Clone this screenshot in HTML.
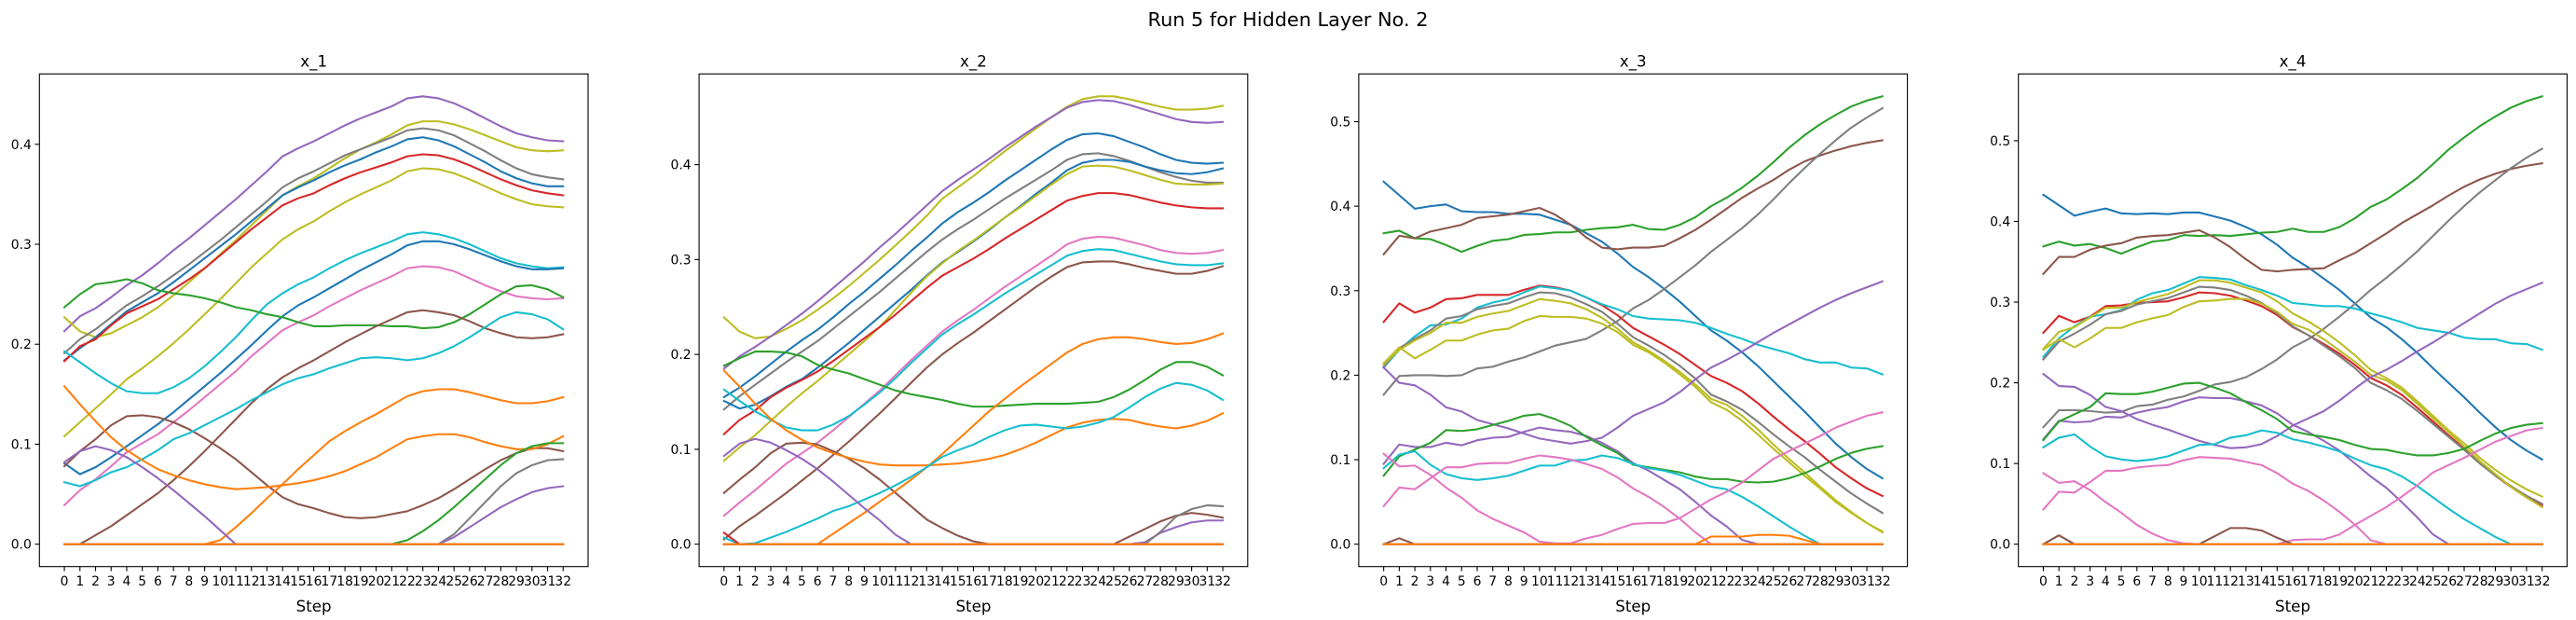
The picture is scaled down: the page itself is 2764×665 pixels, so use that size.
<!DOCTYPE html>
<html><head><meta charset="utf-8">
<style>
html,body{margin:0;padding:0;background:#fff;}
svg{display:block;}
text{font-family:"DejaVu Sans","Liberation Sans",sans-serif;fill:#000;}
</style></head>
<body>
<svg id="fig" width="2764" height="665" viewBox="0 0 2764 665" xmlns="http://www.w3.org/2000/svg">
<rect width="2764" height="665" fill="#fff"/>
<text x="1382" y="28" font-size="20.8" text-anchor="middle">Run 5 for Hidden Layer No. 2</text>
</svg>
<script>
const steps = [0,1,2,3,4,5,6,7,8,9,10,11,12,13,14,15,16,17,18,19,20,21,22,23,24,25,26,27,28,29,30,31,32];
const panelTitles = ["x_1","x_2","x_3","x_4"];
const Z = new Array(33).fill(0);

const colorsX1 = ["purple","olive","gray","blue","red","olive","cyan","blue","pink","green","brown","brown","cyan","orange","orange","purple","green","gray","purple","gray","orange"];
const seriesX1 = [
[0.213,0.228,0.236,0.247,0.259,0.269,0.281,0.294,0.306,0.319,0.332,0.345,0.359,0.373,0.388,0.396,0.403,0.411,0.419,0.426,0.432,0.438,0.446,0.448,0.446,0.441,0.434,0.426,0.418,0.411,0.407,0.404,0.403],
[0.227,0.213,0.207,0.211,0.219,0.227,0.237,0.249,0.262,0.276,0.290,0.304,0.319,0.334,0.349,0.358,0.366,0.376,0.386,0.395,0.402,0.410,0.419,0.423,0.423,0.420,0.415,0.409,0.403,0.397,0.394,0.393,0.394],
[0.191,0.205,0.215,0.227,0.239,0.248,0.258,0.269,0.280,0.292,0.304,0.317,0.330,0.343,0.357,0.366,0.373,0.381,0.389,0.395,0.401,0.407,0.414,0.416,0.414,0.409,0.401,0.393,0.384,0.376,0.370,0.367,0.365],
[0.184,0.196,0.207,0.220,0.233,0.242,0.251,0.262,0.274,0.286,0.298,0.310,0.323,0.336,0.349,0.357,0.364,0.372,0.379,0.385,0.392,0.398,0.405,0.407,0.404,0.398,0.390,0.382,0.373,0.366,0.361,0.358,0.358],
[0.183,0.198,0.205,0.219,0.231,0.238,0.245,0.255,0.265,0.276,0.289,0.302,0.315,0.327,0.339,0.346,0.351,0.359,0.366,0.372,0.377,0.382,0.388,0.390,0.389,0.385,0.379,0.372,0.365,0.359,0.354,0.351,0.349],
[0.108,0.122,0.136,0.150,0.165,0.176,0.188,0.201,0.215,0.230,0.245,0.261,0.277,0.291,0.305,0.315,0.323,0.333,0.342,0.350,0.357,0.364,0.373,0.376,0.375,0.371,0.365,0.358,0.351,0.345,0.340,0.338,0.337],
[0.193,0.182,0.171,0.161,0.153,0.151,0.151,0.157,0.166,0.178,0.192,0.207,0.224,0.240,0.251,0.260,0.267,0.276,0.284,0.291,0.297,0.303,0.310,0.312,0.310,0.306,0.300,0.293,0.286,0.281,0.278,0.276,0.277],
[0.081,0.070,0.077,0.087,0.098,0.109,0.120,0.132,0.145,0.158,0.171,0.185,0.199,0.214,0.228,0.239,0.247,0.256,0.265,0.274,0.282,0.290,0.299,0.303,0.303,0.300,0.295,0.289,0.283,0.278,0.275,0.275,0.276],
[0.039,0.054,0.065,0.078,0.092,0.101,0.110,0.122,0.134,0.147,0.160,0.173,0.188,0.201,0.214,0.222,0.229,0.238,0.246,0.254,0.261,0.268,0.276,0.278,0.277,0.273,0.266,0.259,0.253,0.248,0.246,0.245,0.246],
[0.237,0.250,0.260,0.262,0.265,0.261,0.254,0.251,0.249,0.246,0.242,0.237,0.234,0.230,0.227,0.222,0.218,0.218,0.219,0.219,0.219,0.218,0.218,0.216,0.217,0.222,0.230,0.240,0.250,0.258,0.259,0.255,0.247],
[0.078,0.093,0.105,0.119,0.128,0.129,0.127,0.122,0.115,0.106,0.096,0.085,0.072,0.059,0.047,0.040,0.036,0.031,0.027,0.026,0.027,0.030,0.033,0.039,0.046,0.055,0.065,0.075,0.084,0.091,0.096,0.096,0.093],
[0,0,0.009,0.018,0.029,0.040,0.051,0.064,0.078,0.093,0.109,0.125,0.141,0.155,0.167,0.176,0.184,0.193,0.202,0.210,0.218,0.225,0.232,0.234,0.232,0.229,0.223,0.216,0.211,0.207,0.206,0.207,0.210],
[0.062,0.058,0.064,0.072,0.077,0.085,0.094,0.105,0.111,0.119,0.127,0.135,0.144,0.152,0.160,0.166,0.170,0.176,0.181,0.186,0.187,0.186,0.184,0.186,0.191,0.198,0.207,0.217,0.227,0.232,0.230,0.225,0.215],
[0.158,0.140,0.123,0.107,0.094,0.084,0.075,0.069,0.064,0.060,0.057,0.055,0.056,0.057,0.059,0.061,0.064,0.068,0.073,0.080,0.087,0.096,0.105,0.108,0.110,0.110,0.107,0.102,0.098,0.095,0.095,0.100,0.108],
[0,0,0,0,0,0,0,0,0,0,0.004,0.017,0.031,0.046,0.060,0.075,0.089,0.103,0.113,0.122,0.130,0.139,0.148,0.153,0.155,0.155,0.152,0.148,0.144,0.141,0.141,0.143,0.147],
[0.082,0.093,0.098,0.094,0.087,0.077,0.066,0.054,0.041,0.028,0.014,0,0,0,0,0,0,0,0,0,0,0,0,0,0,0,0,0,0,0,0,0,0],
[0,0,0,0,0,0,0,0,0,0,0,0,0,0,0,0,0,0,0,0,0,0,0.004,0.013,0.024,0.037,0.051,0.065,0.079,0.091,0.098,0.101,0.101],
[0,0,0,0,0,0,0,0,0,0,0,0,0,0,0,0,0,0,0,0,0,0,0,0,0,0.010,0.026,0.042,0.058,0.071,0.079,0.084,0.085],
[0,0,0,0,0,0,0,0,0,0,0,0,0,0,0,0,0,0,0,0,0,0,0,0,0,0.007,0.017,0.027,0.037,0.045,0.052,0.056,0.058],
Z, Z
];

const colorsX2 = ["olive","purple","blue","gray","blue","olive","red","pink","cyan","brown","brown","green","orange","orange","cyan","purple","gray","red","gray","orange"];
const seriesX2 = [
[0.239,0.224,0.217,0.219,0.227,0.236,0.247,0.259,0.272,0.286,0.300,0.315,0.330,0.346,0.364,0.376,0.388,0.401,0.414,0.426,0.438,0.450,0.461,0.469,0.472,0.472,0.469,0.465,0.461,0.458,0.458,0.459,0.462],
[0.185,0.198,0.208,0.219,0.231,0.243,0.256,0.270,0.284,0.298,0.313,0.327,0.342,0.357,0.372,0.384,0.395,0.406,0.418,0.429,0.440,0.450,0.460,0.466,0.468,0.467,0.463,0.458,0.453,0.448,0.445,0.444,0.445],
[0.155,0.165,0.177,0.190,0.203,0.215,0.226,0.239,0.253,0.266,0.280,0.294,0.309,0.323,0.338,0.350,0.360,0.371,0.383,0.394,0.405,0.416,0.426,0.432,0.433,0.430,0.424,0.418,0.411,0.405,0.402,0.401,0.402],
[0.142,0.156,0.168,0.180,0.192,0.203,0.214,0.227,0.240,0.253,0.266,0.280,0.294,0.308,0.321,0.332,0.342,0.353,0.364,0.374,0.384,0.394,0.405,0.411,0.412,0.409,0.404,0.398,0.392,0.387,0.383,0.381,0.381],
[0.151,0.143,0.147,0.156,0.166,0.174,0.186,0.199,0.212,0.226,0.240,0.254,0.268,0.283,0.297,0.308,0.319,0.331,0.344,0.356,0.369,0.381,0.394,0.402,0.405,0.405,0.403,0.398,0.394,0.391,0.390,0.392,0.396],
[0.088,0.102,0.115,0.130,0.145,0.159,0.172,0.186,0.200,0.214,0.229,0.247,0.265,0.282,0.296,0.309,0.320,0.332,0.344,0.355,0.367,0.379,0.390,0.398,0.399,0.398,0.394,0.389,0.384,0.380,0.379,0.379,0.380],
[0.116,0.131,0.141,0.155,0.165,0.173,0.182,0.193,0.205,0.217,0.229,0.242,0.256,0.270,0.283,0.292,0.301,0.311,0.322,0.332,0.342,0.352,0.362,0.367,0.370,0.370,0.368,0.364,0.360,0.357,0.355,0.354,0.354],
[0.030,0.044,0.057,0.071,0.085,0.096,0.107,0.120,0.134,0.148,0.162,0.178,0.194,0.209,0.224,0.236,0.247,0.259,0.271,0.282,0.293,0.304,0.316,0.322,0.324,0.323,0.319,0.315,0.310,0.307,0.306,0.307,0.310],
[0.163,0.151,0.140,0.131,0.123,0.120,0.120,0.126,0.135,0.147,0.160,0.175,0.191,0.206,0.221,0.232,0.242,0.253,0.264,0.274,0.284,0.294,0.304,0.309,0.311,0.310,0.306,0.302,0.298,0.295,0.294,0.294,0.296],
[0.005,0.019,0.030,0.042,0.054,0.067,0.080,0.094,0.108,0.123,0.138,0.154,0.170,0.186,0.200,0.212,0.223,0.235,0.247,0.259,0.271,0.282,0.292,0.297,0.298,0.298,0.295,0.291,0.288,0.285,0.285,0.288,0.293],
[0.054,0.068,0.081,0.096,0.106,0.107,0.105,0.098,0.090,0.080,0.068,0.054,0.040,0.026,0.017,0.009,0.003,0,0,0,0,0,0,0,0,0,0.008,0.016,0.024,0.030,0.033,0.031,0.028],
[0.188,0.196,0.203,0.203,0.202,0.198,0.189,0.184,0.180,0.174,0.168,0.162,0.158,0.155,0.152,0.148,0.145,0.145,0.146,0.147,0.148,0.148,0.148,0.149,0.150,0.155,0.163,0.173,0.184,0.192,0.192,0.187,0.178],
[0.183,0.166,0.148,0.132,0.120,0.110,0.102,0.096,0.091,0.087,0.084,0.083,0.083,0.083,0.084,0.085,0.087,0.090,0.094,0.100,0.107,0.115,0.123,0.128,0.131,0.132,0.131,0.127,0.124,0.122,0.125,0.130,0.138],
[0,0,0,0,0,0,0,0.011,0.022,0.033,0.045,0.056,0.068,0.081,0.095,0.110,0.125,0.140,0.153,0.166,0.178,0.190,0.202,0.211,0.216,0.218,0.218,0.216,0.213,0.211,0.212,0.216,0.222],
[0.007,0,0.001,0.007,0.013,0.020,0.027,0.035,0.040,0.047,0.054,0.062,0.071,0.081,0.092,0.099,0.105,0.113,0.120,0.125,0.126,0.124,0.122,0.124,0.128,0.134,0.144,0.155,0.164,0.170,0.168,0.162,0.152],
[0.093,0.106,0.111,0.107,0.099,0.090,0.079,0.066,0.052,0.038,0.025,0.010,0,0,0,0,0,0,0,0,0,0,0,0,0,0,0,0.002,0.012,0.018,0.023,0.025,0.025],
[0,0,0,0,0,0,0,0,0,0,0,0,0,0,0,0,0,0,0,0,0,0,0,0,0,0,0,0,0.013,0.029,0.037,0.041,0.040],
[0.012,0,0,0,0,0,0,0,0,0,0,0,0,0,0,0,0,0,0,0,0,0,0,0,0,0,0,0,0,0,0,0,0],
Z, Z
];

const colorsX3 = ["blue","green","brown","gray","red","cyan","gray","olive","olive","purple","purple","green","cyan","pink","pink","orange","brown","gray","orange"];
const seriesX3 = [
[0.429,0.413,0.397,0.400,0.402,0.394,0.393,0.393,0.391,0.391,0.390,0.384,0.378,0.368,0.358,0.344,0.328,0.316,0.302,0.287,0.270,0.253,0.241,0.227,0.211,0.193,0.175,0.157,0.138,0.119,0.103,0.089,0.078],
[0.368,0.371,0.362,0.361,0.354,0.346,0.353,0.359,0.361,0.366,0.367,0.369,0.369,0.372,0.374,0.375,0.378,0.373,0.372,0.378,0.387,0.400,0.410,0.422,0.436,0.452,0.469,0.484,0.497,0.508,0.518,0.525,0.530],
[0.343,0.365,0.362,0.370,0.374,0.378,0.386,0.388,0.390,0.394,0.398,0.390,0.378,0.363,0.351,0.349,0.351,0.351,0.353,0.362,0.372,0.384,0.397,0.410,0.421,0.431,0.443,0.453,0.460,0.466,0.471,0.475,0.478],
[0.177,0.199,0.200,0.200,0.199,0.200,0.208,0.210,0.216,0.221,0.228,0.235,0.239,0.243,0.253,0.264,0.279,0.289,0.302,0.316,0.330,0.346,0.360,0.374,0.390,0.408,0.427,0.445,0.462,0.478,0.493,0.505,0.516],
[0.263,0.285,0.274,0.280,0.290,0.291,0.295,0.295,0.295,0.301,0.306,0.304,0.300,0.292,0.283,0.271,0.256,0.246,0.236,0.225,0.212,0.199,0.191,0.181,0.167,0.151,0.136,0.122,0.107,0.091,0.078,0.066,0.057],
[0.209,0.230,0.246,0.259,0.260,0.267,0.280,0.286,0.290,0.298,0.305,0.303,0.300,0.292,0.284,0.278,0.270,0.267,0.266,0.265,0.262,0.256,0.249,0.243,0.236,0.231,0.226,0.219,0.215,0.215,0.209,0.208,0.201],
[0.210,0.232,0.243,0.253,0.267,0.270,0.278,0.282,0.285,0.292,0.298,0.297,0.292,0.284,0.275,0.261,0.245,0.235,0.224,0.211,0.196,0.177,0.169,0.159,0.145,0.130,0.116,0.103,0.088,0.074,0.060,0.048,0.037],
[0.213,0.230,0.241,0.250,0.262,0.262,0.269,0.273,0.276,0.283,0.290,0.288,0.285,0.278,0.268,0.255,0.239,0.229,0.217,0.204,0.189,0.172,0.165,0.152,0.136,0.118,0.101,0.085,0.068,0.052,0.038,0.025,0.014],
[0.214,0.233,0.220,0.230,0.241,0.241,0.248,0.253,0.255,0.264,0.270,0.269,0.269,0.267,0.261,0.251,0.236,0.227,0.215,0.201,0.186,0.168,0.159,0.146,0.130,0.113,0.097,0.081,0.066,0.050,0.037,0.025,0.015],
[0.209,0.191,0.188,0.177,0.162,0.157,0.147,0.142,0.137,0.131,0.125,0.122,0.119,0.122,0.126,0.138,0.152,0.160,0.168,0.180,0.195,0.209,0.218,0.228,0.239,0.250,0.260,0.270,0.280,0.289,0.297,0.304,0.311],
[0.095,0.118,0.115,0.115,0.120,0.117,0.123,0.126,0.127,0.133,0.138,0.135,0.133,0.128,0.120,0.110,0.096,0.087,0.076,0.065,0.050,0.034,0.021,0.005,0,0,0,0,0,0,0,0,0],
[0.081,0.104,0.112,0.120,0.135,0.134,0.136,0.141,0.146,0.152,0.154,0.148,0.140,0.127,0.117,0.108,0.094,0.091,0.088,0.085,0.080,0.077,0.077,0.074,0.073,0.074,0.078,0.084,0.092,0.101,0.108,0.113,0.116],
[0.090,0.106,0.110,0.094,0.083,0.078,0.076,0.078,0.081,0.087,0.093,0.093,0.099,0.100,0.105,0.102,0.095,0.090,0.087,0.082,0.075,0.068,0.065,0.056,0.045,0.033,0.021,0.010,0,0,0,0,0],
[0.107,0.092,0.093,0.082,0.067,0.055,0.040,0.030,0.022,0.014,0.003,0.001,0.001,0.007,0.011,0.018,0.024,0.025,0.025,0.031,0.042,0.053,0.062,0.073,0.087,0.101,0.110,0.119,0.128,0.138,0.145,0.152,0.156],
[0.045,0.067,0.065,0.078,0.091,0.091,0.095,0.096,0.096,0.101,0.105,0.103,0.100,0.095,0.089,0.079,0.066,0.056,0.044,0.030,0.014,0,0,0,0,0,0,0,0,0,0,0,0],
[0,0,0,0,0,0,0,0,0,0,0,0,0,0,0,0,0,0,0,0,0,0.009,0.009,0.009,0.011,0.011,0.010,0.005,0,0,0,0,0],
[0,0.007,0,0,0,0,0,0,0,0,0,0,0,0,0,0,0,0,0,0,0,0,0,0,0,0,0,0,0,0,0,0,0],
Z, Z
];

const colorsX4 = ["blue","green","brown","gray","red","cyan","olive","gray","olive","purple","purple","green","cyan","pink","pink","brown","gray","orange"];
const seriesX4 = [
[0.433,0.420,0.407,0.412,0.416,0.410,0.409,0.410,0.409,0.411,0.411,0.406,0.401,0.393,0.384,0.371,0.355,0.343,0.329,0.315,0.298,0.281,0.269,0.254,0.237,0.218,0.200,0.182,0.163,0.145,0.129,0.116,0.105],
[0.369,0.375,0.370,0.372,0.367,0.360,0.368,0.375,0.377,0.383,0.382,0.383,0.382,0.384,0.386,0.387,0.391,0.387,0.387,0.393,0.404,0.418,0.427,0.440,0.454,0.471,0.489,0.504,0.518,0.530,0.541,0.549,0.555],
[0.335,0.356,0.356,0.365,0.370,0.373,0.380,0.382,0.383,0.386,0.389,0.380,0.368,0.353,0.340,0.338,0.340,0.341,0.342,0.352,0.361,0.373,0.385,0.398,0.409,0.420,0.432,0.443,0.452,0.459,0.465,0.469,0.472],
[0.145,0.166,0.166,0.165,0.163,0.164,0.171,0.173,0.179,0.183,0.190,0.198,0.201,0.207,0.217,0.229,0.244,0.254,0.267,0.282,0.298,0.315,0.330,0.346,0.363,0.382,0.401,0.419,0.436,0.451,0.466,0.479,0.490],
[0.262,0.283,0.275,0.282,0.295,0.296,0.299,0.300,0.301,0.306,0.312,0.311,0.308,0.302,0.295,0.284,0.269,0.259,0.248,0.236,0.222,0.206,0.197,0.185,0.169,0.152,0.135,0.118,0.101,0.085,0.071,0.058,0.048],
[0.232,0.255,0.270,0.282,0.285,0.290,0.303,0.311,0.315,0.323,0.331,0.330,0.328,0.321,0.315,0.308,0.299,0.297,0.295,0.295,0.292,0.286,0.281,0.275,0.268,0.265,0.262,0.256,0.254,0.254,0.249,0.248,0.241],
[0.242,0.263,0.269,0.281,0.293,0.293,0.300,0.305,0.310,0.318,0.327,0.327,0.324,0.318,0.312,0.301,0.286,0.276,0.264,0.250,0.234,0.216,0.206,0.194,0.177,0.159,0.141,0.125,0.107,0.092,0.079,0.068,0.059],
[0.229,0.251,0.261,0.272,0.285,0.289,0.297,0.301,0.305,0.312,0.319,0.318,0.315,0.308,0.299,0.286,0.270,0.259,0.246,0.233,0.218,0.200,0.191,0.180,0.165,0.149,0.133,0.117,0.100,0.085,0.072,0.060,0.050],
[0.241,0.254,0.244,0.255,0.268,0.268,0.275,0.280,0.284,0.294,0.301,0.302,0.304,0.304,0.298,0.288,0.273,0.266,0.254,0.240,0.226,0.210,0.203,0.191,0.174,0.156,0.139,0.121,0.103,0.087,0.071,0.058,0.046],
[0.211,0.196,0.195,0.185,0.170,0.165,0.155,0.148,0.142,0.135,0.128,0.123,0.119,0.120,0.124,0.134,0.147,0.156,0.165,0.178,0.193,0.207,0.216,0.227,0.239,0.250,0.262,0.274,0.286,0.298,0.308,0.316,0.324],
[0.130,0.153,0.151,0.152,0.158,0.157,0.163,0.167,0.170,0.177,0.182,0.181,0.181,0.177,0.172,0.162,0.148,0.139,0.128,0.116,0.100,0.084,0.070,0.052,0.033,0.012,0,0,0,0,0,0,0],
[0.129,0.152,0.161,0.170,0.187,0.186,0.186,0.189,0.194,0.199,0.200,0.194,0.187,0.176,0.166,0.155,0.140,0.136,0.133,0.129,0.123,0.118,0.117,0.113,0.110,0.110,0.113,0.118,0.128,0.137,0.144,0.148,0.150],
[0.120,0.132,0.136,0.121,0.109,0.105,0.103,0.105,0.109,0.116,0.123,0.124,0.132,0.135,0.141,0.138,0.130,0.126,0.121,0.115,0.106,0.098,0.093,0.084,0.072,0.058,0.044,0.031,0.020,0.009,0,0,0],
[0.088,0.076,0.078,0.067,0.052,0.039,0.024,0.013,0.005,0.001,0,0,0,0,0,0,0.005,0.006,0.006,0.012,0.024,0.035,0.046,0.059,0.073,0.089,0.098,0.107,0.117,0.127,0.134,0.141,0.144],
[0.043,0.065,0.064,0.077,0.091,0.091,0.095,0.097,0.098,0.104,0.108,0.107,0.106,0.102,0.098,0.088,0.075,0.066,0.054,0.040,0.024,0.005,0,0,0,0,0,0,0,0,0,0,0],
[0,0.011,0,0,0,0,0,0,0,0,0,0.010,0.020,0.020,0.017,0.008,0,0,0,0,0,0,0,0,0,0,0,0,0,0,0,0,0],
Z, Z
];

const PALETTE = {blue:"#1f77b4",orange:"#ff7f0e",green:"#2ca02c",red:"#d62728",purple:"#9467bd",brown:"#8c564b",pink:"#e377c2",gray:"#7f7f7f",olive:"#bcbd22",cyan:"#17becf"};
const NS = "http://www.w3.org/2000/svg";
const svg = document.getElementById("fig");
function mk(tag, attrs, parent){
  const e = document.createElementNS(NS, tag);
  for (const k in attrs) e.setAttribute(k, attrs[k]);
  (parent||svg).appendChild(e);
  return e;
}
const AX_W = 588.7, AX_TOP = 79.3, AX_BOT = 607.7;
const LEFTS = [42.3, 750.1, 1457.9, 2165.7];
const allSeries = [seriesX1, seriesX2, seriesX3, seriesX4];
const allColors = [colorsX1, colorsX2, colorsX3, colorsX4];

allSeries.forEach((series, p) => {
  const left = LEFTS[p];
  const g = mk("g", {});
  
  
  let mn = Infinity, mx = -Infinity;
  series.forEach(s => s.forEach(v => { if (v < mn) mn = v; if (v > mx) mx = v; }));
  const yr = mx - mn, y0 = mn - 0.05*yr, y1 = mx + 0.05*yr;
  const x0 = steps[0] - 0.05*(steps[steps.length-1]-steps[0]);
  const x1 = steps[steps.length-1] + 0.05*(steps[steps.length-1]-steps[0]);
  const sx = v => left + (v - x0)/(x1 - x0)*AX_W;
  const sy = v => AX_BOT - (v - y0)/(y1 - y0)*(AX_BOT - AX_TOP);

  const clipId = "clip" + p;
  const cp = mk("clipPath", {id: clipId}, g);
  mk("rect", {x:left, y:AX_TOP, width:AX_W, height:AX_BOT-AX_TOP}, cp);

  const lines = mk("g", {"clip-path":"url(#"+clipId+")"}, g);
  
  
  series.forEach((s, i) => {
    const d = s.map((v, j) => (j ? "L" : "M") + sx(steps[j]).toFixed(2) + "," + sy(v).toFixed(2)).join("");
    const path = mk("path", {d:d, fill:"none", stroke:PALETTE[allColors[p][i]], "stroke-width":2.08, "stroke-linejoin":"round", "stroke-linecap":"square"}, lines);
    
    
  });

  const frame = mk("rect", {x:left, y:AX_TOP, width:AX_W, height:AX_BOT-AX_TOP, fill:"none", stroke:"#000", "stroke-width":1.1}, g);
  
  

  // y ticks
  for (let t = 0; t <= y1 + 1e-9; t += 0.1) {
    const tv = Math.round(t*10)/10;
    if (tv < y0 || tv > y1) continue;
    const y = sy(tv);
    mk("line", {x1:left-4.9, x2:left, y1:y, y2:y, stroke:"#000", "stroke-width":1.1}, g);
    const tl = mk("text", {x:left-8.5, y:y+5, "font-size":13.9, "text-anchor":"end"}, g);
    tl.textContent = tv.toFixed(1);
    
    
  }
  // x ticks
  steps.forEach(st => {
    const x = sx(st);
    mk("line", {x1:x, x2:x, y1:AX_BOT, y2:AX_BOT+4.9, stroke:"#000", "stroke-width":1.1}, g);
    const tl = mk("text", {x:x, y:AX_BOT+20.5, "font-size":13.9, "text-anchor":"middle"}, g);
    tl.textContent = String(st);
    
    
  });
  const xl = mk("text", {x:left+AX_W/2, y:656, "font-size":16.7, "text-anchor":"middle"}, g);
  xl.textContent = "Step";
  
  
  const tt = mk("text", {x:left+AX_W/2, y:71.5, "font-size":16.7, "text-anchor":"middle"}, g);
  tt.textContent = panelTitles[p];
  
  
});
</script>
</body></html>
